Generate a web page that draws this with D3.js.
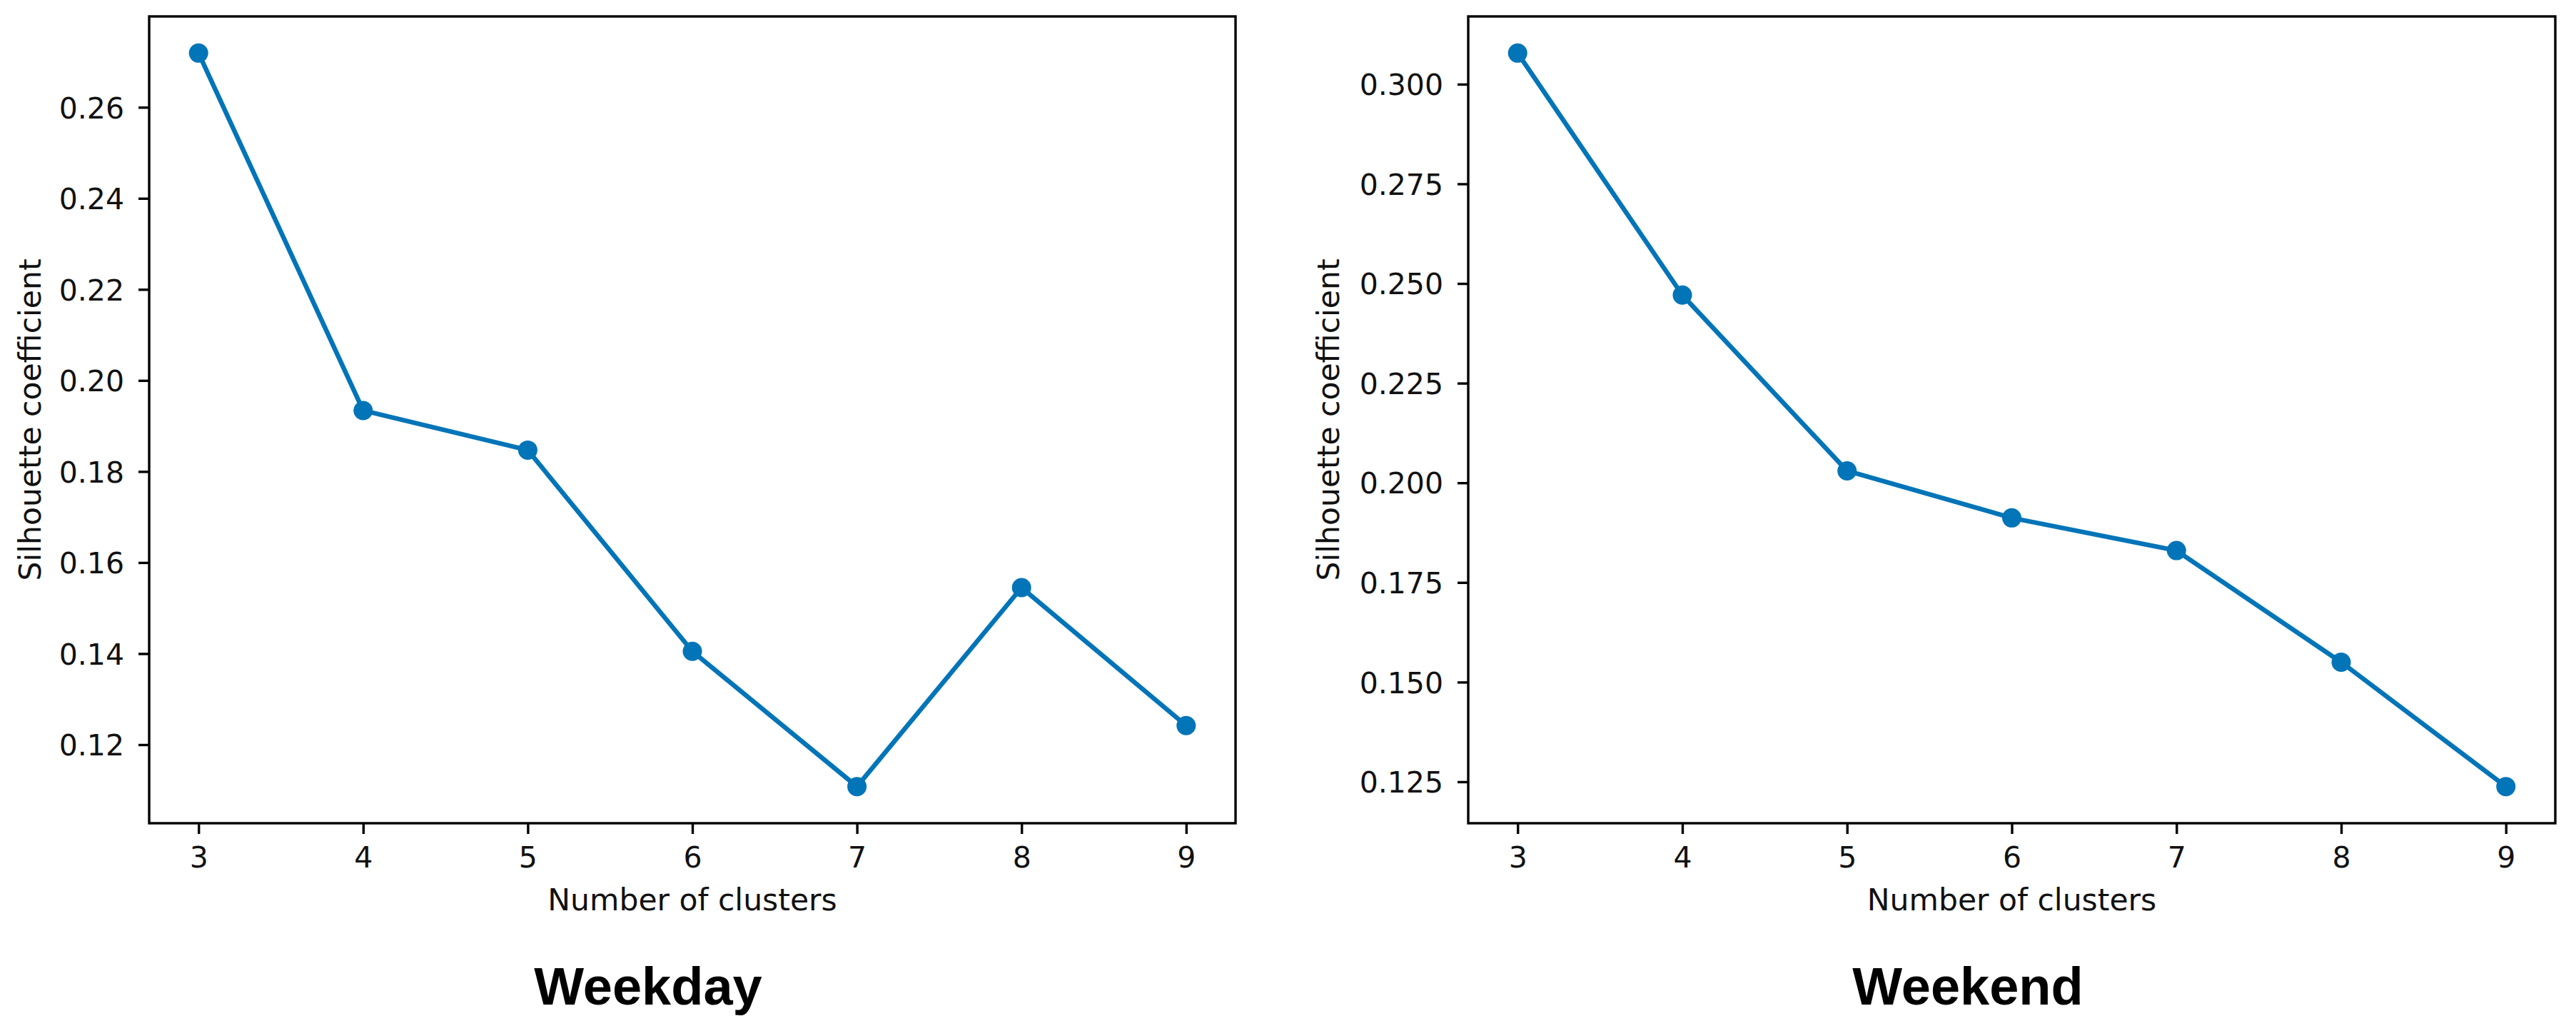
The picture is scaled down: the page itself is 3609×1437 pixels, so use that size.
<!DOCTYPE html>
<html>
<head>
<meta charset="utf-8">
<script src="https://cdn.jsdelivr.net/npm/d3@7"></script>
<style>
  html, body { margin: 0; padding: 0; background: #fff; }
  svg { display: block; }
</style>
</head>
<body>
<svg id="chart" width="3609" height="1437"></svg>
<script>
// ---- data ----
const clusters = [3, 4, 5, 6, 7, 8, 9];
const weekdayValues = [0.2719, 0.1934, 0.1847, 0.1405, 0.1108, 0.1545, 0.1242];
const weekendValues = [0.3078, 0.2471, 0.2030, 0.1912, 0.1830, 0.1550, 0.1238];
const weekdayTicks = [0.12, 0.14, 0.16, 0.18, 0.20, 0.22, 0.24, 0.26];
const weekendTicks = [0.125, 0.150, 0.175, 0.200, 0.225, 0.250, 0.275, 0.300];
const xTicks = [3, 4, 5, 6, 7, 8, 9];
const panelTitles = ["Weekday", "Weekend"];
const xLabel = "Number of clusters";
const yLabel = "Silhouette coefficient";

// ---- layout ----
const svg = d3.select("#chart");
const color = "#0274b8";
const fontTick = "DejaVu Sans";
const panels = [
  { left: 209, right: 1731, top: 23, bottom: 1153, values: weekdayValues, ticks: weekdayTicks, fmt: d3.format(".2f"), title: panelTitles[0], titleX: 908, ylabX: 57 },
  { left: 2057, right: 3580, top: 23, bottom: 1153, values: weekendValues, ticks: weekendTicks, fmt: d3.format(".3f"), title: panelTitles[1], titleX: 2757, ylabX: 1876 }
];

panels.forEach(p => {
  const xMin = d3.min(clusters), xMax = d3.max(clusters);
  const xPad = (xMax - xMin) * 0.05;
  const x = d3.scaleLinear().domain([xMin - xPad, xMax + xPad]).range([p.left, p.right]);
  const yMin = d3.min(p.values), yMax = d3.max(p.values);
  const yPad = (yMax - yMin) * 0.05;
  const y = d3.scaleLinear().domain([yMin - yPad, yMax + yPad]).range([p.bottom, p.top]);

  const g = svg.append("g");

  // y axis
  const yAxis = d3.axisLeft(y).tickValues(p.ticks).tickFormat(p.fmt).tickSizeOuter(0).tickSize(15).tickPadding(20);
  const ya = g.append("g").attr("transform", `translate(${p.left},0)`).call(yAxis);
  ya.select(".domain").remove();
  ya.selectAll(".tick line").attr("stroke", "#000").attr("stroke-width", 3.4);
  ya.selectAll(".tick text")
    .attr("font-family", fontTick).attr("font-size", 41).attr("fill", "#111")
    .attr("dy", "0.36em");

  // x axis
  const xAxis = d3.axisBottom(x).tickValues(xTicks).tickFormat(d3.format("d")).tickSizeOuter(0).tickSize(15).tickPadding(18);
  const xa = g.append("g").attr("transform", `translate(0,${p.bottom})`).call(xAxis);
  xa.select(".domain").remove();
  xa.selectAll(".tick line").attr("stroke", "#000").attr("stroke-width", 3.4);
  xa.selectAll(".tick text")
    .attr("font-family", fontTick).attr("font-size", 41).attr("fill", "#111");

  // frame
  g.append("rect")
    .attr("x", p.left).attr("y", p.top)
    .attr("width", p.right - p.left).attr("height", p.bottom - p.top)
    .attr("fill", "none").attr("stroke", "#000").attr("stroke-width", 3.4);

  // line
  const line = d3.line().x((d, i) => x(clusters[i])).y(d => y(d));
  g.append("path").datum(p.values)
    .attr("d", line).attr("fill", "none")
    .attr("stroke", color).attr("stroke-width", 6.5)
    .attr("stroke-linejoin", "round");

  g.selectAll("circle.pt").data(p.values).enter().append("circle")
    .attr("class", "pt")
    .attr("cx", (d, i) => x(clusters[i])).attr("cy", d => y(d))
    .attr("r", 13.5).attr("fill", color);

  // axis labels
  g.append("text")
    .attr("x", (p.left + p.right) / 2).attr("y", 1275)
    .attr("text-anchor", "middle")
    .attr("font-family", fontTick).attr("font-size", 42.5).attr("fill", "#111")
    .text(xLabel);

  g.append("text")
    .attr("transform", `translate(${p.ylabX},${(p.top + p.bottom) / 2}) rotate(-90)`)
    .attr("text-anchor", "middle")
    .attr("font-family", fontTick).attr("font-size", 42.5).attr("fill", "#111")
    .text(yLabel);

  // panel title
  svg.append("text")
    .attr("x", p.titleX).attr("y", 1407)
    .attr("text-anchor", "middle")
    .attr("font-family", "Liberation Sans, Arial, sans-serif")
    .attr("font-weight", "bold").attr("font-size", 74).attr("fill", "#000")
    .text(p.title);
});
</script>
</body>
</html>
